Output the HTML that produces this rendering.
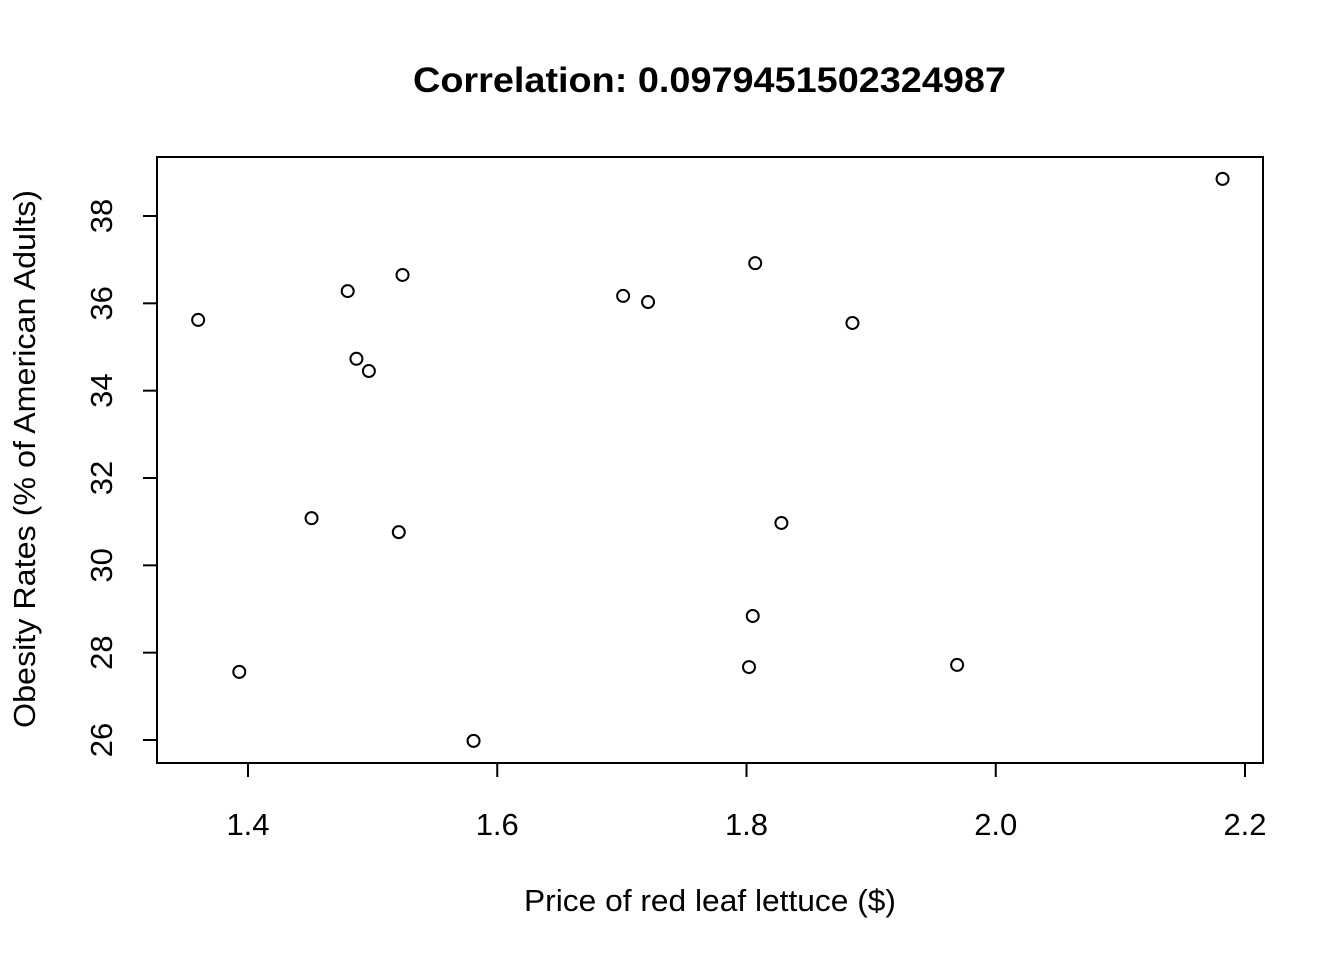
<!DOCTYPE html>
<html><head><meta charset="utf-8"><style>
body{margin:0;background:#fff;}
svg text{font-family:"Liberation Sans",Arial,sans-serif;fill:#000;}
</style></head><body>
<svg width="1344" height="960" viewBox="0 0 1344 960">
<rect x="0" y="0" width="1344" height="960" fill="#fff"/>
<text x="413" y="92" font-size="35" font-weight="bold" textLength="593" lengthAdjust="spacingAndGlyphs">Correlation: 0.0979451502324987</text>
<rect x="157" y="157" width="1106" height="606" fill="none" stroke="#000" stroke-width="2"/>
<g id="xaxis"></g>
<g id="yaxis"></g>
<g id="pts"></g>
<text x="524" y="911" font-size="31" textLength="372" lengthAdjust="spacingAndGlyphs">Price of red leaf lettuce ($)</text>
<text transform="translate(35,728) rotate(-90)" font-size="31" textLength="538" lengthAdjust="spacingAndGlyphs">Obesity Rates (% of American Adults)</text>
</svg>
<script>
const xTicks=[1.4,1.6,1.8,2.0,2.2];
const xTickLabels=["1.4","1.6","1.8","2.0","2.2"];
const yTicks=[26,28,30,32,34,36,38];
const yTickLabels=["26","28","30","32","34","36","38"];
const priceValues=[1.360,1.393,1.451,1.480,1.487,1.497,1.521,1.524,1.581,1.701,1.721,1.807,1.805,1.802,1.828,1.885,1.969,2.182];
const obesityValues=[35.62,27.56,31.08,36.28,34.73,34.45,30.76,36.65,25.98,36.17,36.03,36.92,28.84,27.67,30.97,35.55,27.72,38.85];
const NS="http://www.w3.org/2000/svg";
function xs(v){return 248+(v-1.4)*1246.25;}
function ys(v){return 740-(v-26)*43.667;}
function mk(tag,attrs,parent){const e=document.createElementNS(NS,tag);for(const k in attrs)e.setAttribute(k,attrs[k]);parent.appendChild(e);return e;}
const xa=document.getElementById('xaxis');
mk('line',{x1:xs(xTicks[0]),x2:xs(xTicks[xTicks.length-1]),y1:763,y2:763,stroke:'#000','stroke-width':2},xa);
xTicks.forEach((t,i)=>{
 const l=mk('line',{x1:xs(t),x2:xs(t),y1:763,y2:777,stroke:'#000','stroke-width':2},xa);
 
 
 const tx=mk('text',{x:xs(t),y:835,'text-anchor':'middle','font-size':31},xa);
 tx.textContent=xTickLabels[i];
 
 
});
const ya=document.getElementById('yaxis');
mk('line',{x1:157,x2:157,y1:ys(yTicks[0]),y2:ys(yTicks[yTicks.length-1]),stroke:'#000','stroke-width':2},ya);
yTicks.forEach((t,i)=>{
 const l=mk('line',{x1:143,x2:157,y1:ys(t),y2:ys(t),stroke:'#000','stroke-width':2},ya);
 
 
 const tx=mk('text',{transform:`translate(112,${ys(t)}) rotate(-90)`,'text-anchor':'middle','font-size':31},ya);
 tx.textContent=yTickLabels[i];
 
 
});
const pg=document.getElementById('pts');
priceValues.forEach((p,i)=>{
 const c=mk('circle',{cx:xs(p),cy:ys(obesityValues[i]),r:6,fill:'none',stroke:'#000','stroke-width':2},pg);
 
 
});
</script>
</body></html>
